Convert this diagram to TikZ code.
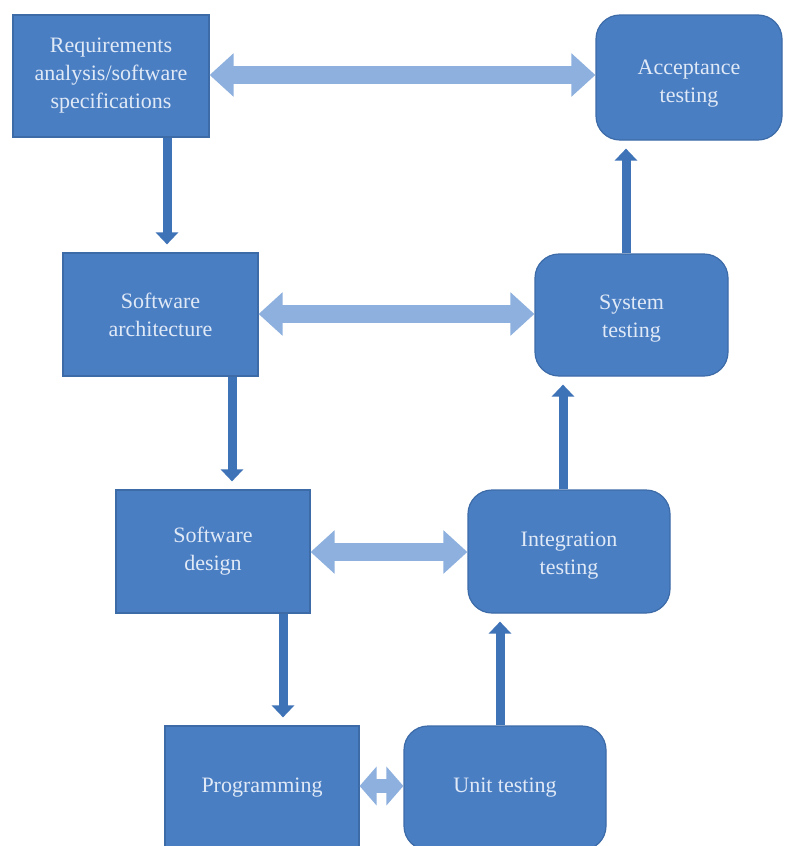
\documentclass[tikz,border=0pt]{standalone}
\usepackage{fontspec}
\setmainfont{Liberation Serif}
\usetikzlibrary{arrows.meta}
\definecolor{boxfill}{HTML}{4A7EC3}
\definecolor{boxedge}{HTML}{3C6BA8}
\definecolor{linkblue}{HTML}{8DB0DE}
\definecolor{flowblue}{HTML}{3F73B8}
\definecolor{labeltext}{HTML}{E0E9F6}
\begin{document}
\begin{tikzpicture}[x=1pt,y=-1pt,
  phasetext/.style={text=labeltext, align=center, inner sep=0pt,
    font=\fontsize{22}{28}\selectfont},
  phase/.style={draw=boxedge, line width=1.2pt, fill=boxfill, phasetext},
  testphase/.style={phase, rounded corners=24pt},
  flow/.style={draw=flowblue, line width=9pt,
    -{Triangle[length=12pt,width=22pt]}, shorten >=8pt},
  link/.style={draw=linkblue, line width=18pt,
    {Triangle[length=24pt,width=42pt]}-{Triangle[length=24pt,width=42pt]}},
]
\useasboundingbox (0,0) rectangle (786,846);
\fill[white] (0,0) rectangle (786,846);
\clip (0,0) rectangle (786,846);

% V-model phases: design side (left)
\node[phase, minimum width=196pt, minimum height=122pt] (req) at (111,76)
  {Requirements\\analysis/software\\specifications};
\node[phase, minimum width=195pt, minimum height=123pt] (arch) at (160.5,314.5)
  {Software\\architecture};
\node[phase, minimum width=194pt, minimum height=123pt] (des) at (213,551.5)
  {Software\\design};
\node[phase, minimum width=194pt, minimum height=124pt] (prog) at (262,788)
  {Programming};

% V-model phases: test side (right), captions sit a little below centre
\node[testphase, minimum width=186pt, minimum height=125pt,
  label={[phasetext, yshift=-6pt]center:{Acceptance\\testing}}] (acc) at (689,77.5) {};
\node[testphase, minimum width=193pt, minimum height=122pt,
  label={[phasetext, yshift=-3.5pt]center:{System\\testing}}] (sys) at (631.5,315) {};
\node[testphase, minimum width=202pt, minimum height=123pt,
  label={[phasetext, yshift=-4pt]center:{Integration\\testing}}] (int) at (569,551.5) {};
\node[testphase, minimum width=202pt, minimum height=124pt] (unit) at (505,788)
  {Unit testing};

% verification links between matching levels
\draw[link] (req.east |- 0,75) -- (acc.west |- 0,75);
\draw[link] (arch.east |- 0,314) -- (sys.west |- 0,314);
\draw[link] (des.east |- 0,552) -- (int.west |- 0,552);
\draw[draw=linkblue, line width=14pt,
  {Triangle[length=17pt,width=38pt]}-{Triangle[length=17pt,width=38pt]}]
  (prog.east |- 0,786) -- (unit.west |- 0,786);

% descending design flow
\draw[flow] (req.south -| 167,0) -- (arch.north -| 167,0);
\draw[flow] (arch.south -| 232,0) -- (des.north -| 232,0);
\draw[flow] (des.south -| 283,0) -- (prog.north -| 283,0);

% ascending test flow
\draw[flow] (unit.north -| 500,0) -- (int.south -| 500,0);
\draw[flow] (int.north -| 563,0) -- (sys.south -| 563,0);
\draw[flow] (sys.north -| 626,0) -- (acc.south -| 626,0);
\end{tikzpicture}
\end{document}
